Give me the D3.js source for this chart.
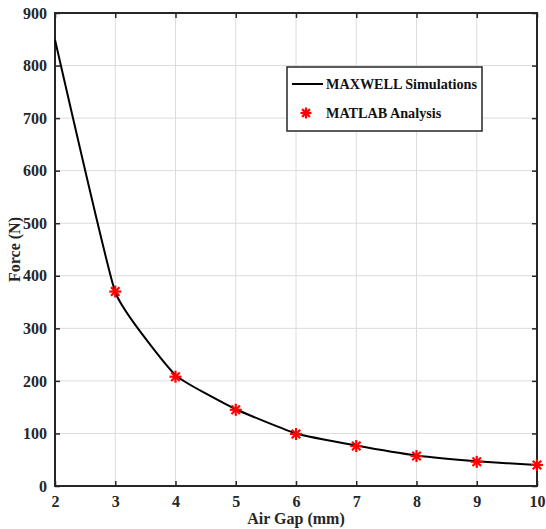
<!DOCTYPE html>
<html>
<head>
<meta charset="utf-8">
<script src="https://cdn.jsdelivr.net/npm/d3@7"></script>
<style>
  body { margin: 0; background: #fff; }
  svg { display: block; font-family: "Liberation Serif", "Times New Roman", serif; font-weight: bold; }
</style>
</head>
<body>
<div id="chart"></div>
<script>
const airGap = [2, 3, 4, 5, 6, 7, 8, 9, 10];
const maxwellForce = [849, 369, 211, 146, 100, 77, 58, 47, 40];
const matlabGap = [3, 4, 5, 6, 7, 8, 9, 10];
const matlabForce = [370, 208, 145, 99, 76, 57, 46, 40];
const xTicks = [2, 3, 4, 5, 6, 7, 8, 9, 10];
const yTicks = [0, 100, 200, 300, 400, 500, 600, 700, 800, 900];

const width = 546;
const height = 529;
const margin = { left: 55, right: 9, top: 13, bottom: 43 };

const svg = d3.select('#chart').append('svg')
    .attr('width', width)
    .attr('height', height);

const x = d3.scaleLinear().domain([2, 10]).range([margin.left, width - margin.right]);
const y = d3.scaleLinear().domain([0, 900]).range([height - margin.bottom, margin.top]);

// grid
const grid = svg.append('g').attr('stroke', '#dcdcdc').attr('stroke-width', 1);
grid.selectAll('.gx').data(xTicks.slice(1, -1)).enter().append('line')
    .attr('x1', d => x(d)).attr('x2', d => x(d))
    .attr('y1', y(0)).attr('y2', y(900));
grid.selectAll('.gy').data(yTicks.slice(1, -1)).enter().append('line')
    .attr('x1', x(2)).attr('x2', x(10))
    .attr('y1', d => y(d)).attr('y2', d => y(d));

// axes (ticks inward, like MATLAB)
const axisStyle = g => {
    g.select('.domain').remove();
    g.selectAll('.tick line').attr('stroke', '#262626').attr('stroke-width', 1.5);
    g.selectAll('.tick text').attr('fill', '#262626')
        .style('font-family', '"Liberation Serif", serif').style('font-weight', 'bold').style('font-size', '16px');
};

svg.append('g')
    .attr('transform', `translate(0,${y(0)})`)
    .call(d3.axisBottom(x).tickValues(xTicks).tickFormat(d3.format('d')).tickSizeInner(-5).tickPadding(10))
    .call(axisStyle);

svg.append('g')
    .attr('transform', `translate(${x(2)},0)`)
    .call(d3.axisLeft(y).tickValues(yTicks).tickFormat(d3.format('d')).tickSizeInner(-5).tickPadding(8))
    .call(axisStyle);

svg.append('g')
    .attr('transform', `translate(0,${y(900)})`)
    .call(d3.axisTop(x).tickValues(xTicks).tickFormat('').tickSizeInner(-5))
    .call(axisStyle);

svg.append('g')
    .attr('transform', `translate(${x(10)},0)`)
    .call(d3.axisRight(y).tickValues(yTicks).tickFormat('').tickSizeInner(-5))
    .call(axisStyle);

// box
svg.append('rect')
    .attr('x', x(2)).attr('y', y(900))
    .attr('width', x(10) - x(2)).attr('height', y(0) - y(900))
    .attr('fill', 'none').attr('stroke', '#262626').attr('stroke-width', 2);

// maxwell line
const line = d3.line()
    .x((d, i) => x(airGap[i]))
    .y(d => y(d))
    .curve(d3.curveCardinal.tension(0.65));

svg.append('path')
    .datum(maxwellForce)
    .attr('d', line)
    .attr('fill', 'none')
    .attr('stroke', '#000')
    .attr('stroke-width', 2);

// asterisk marker
const star = (g, r) => {
    [0, 45, 90, 135].forEach(a => {
        const rad = a * Math.PI / 180;
        g.append('line')
            .attr('x1', -r * Math.cos(rad)).attr('y1', -r * Math.sin(rad))
            .attr('x2', r * Math.cos(rad)).attr('y2', r * Math.sin(rad));
    });
};

const markers = svg.append('g').attr('stroke', '#ff0000').attr('stroke-width', 2.2);
matlabForce.forEach((v, i) => {
    const g = markers.append('g').attr('transform', `translate(${x(matlabGap[i])},${y(v)})`);
    star(g, 6);
});

// legend
const legend = svg.append('g').attr('transform', 'translate(287,67)');
legend.append('rect')
    .attr('width', 195).attr('height', 64)
    .attr('fill', '#fff').attr('stroke', '#262626').attr('stroke-width', 1.5);
legend.append('line')
    .attr('x1', 5).attr('x2', 36).attr('y1', 17).attr('y2', 17)
    .attr('stroke', '#000').attr('stroke-width', 2);
legend.append('text').attr('x', 39).attr('y', 22)
    .style('font-size', '14.2px').attr('fill', '#111').text('MAXWELL Simulations');
const ls = legend.append('g').attr('transform', 'translate(19,46)')
    .attr('stroke', '#ff0000').attr('stroke-width', 2.2);
star(ls, 5.5);
legend.append('text').attr('x', 39).attr('y', 51)
    .style('font-size', '14.2px').attr('fill', '#111').text('MATLAB Analysis');

// axis labels
svg.append('text')
    .attr('x', (x(2) + x(10)) / 2).attr('y', 524)
    .attr('text-anchor', 'middle')
    .style('font-size', '16px').attr('fill', '#262626')
    .text('Air Gap (mm)');

svg.append('text')
    .attr('transform', `translate(20,${(y(0) + y(900)) / 2}) rotate(-90)`)
    .attr('text-anchor', 'middle')
    .style('font-size', '16px').attr('fill', '#262626')
    .text('Force (N)');
</script>
</body>
</html>
